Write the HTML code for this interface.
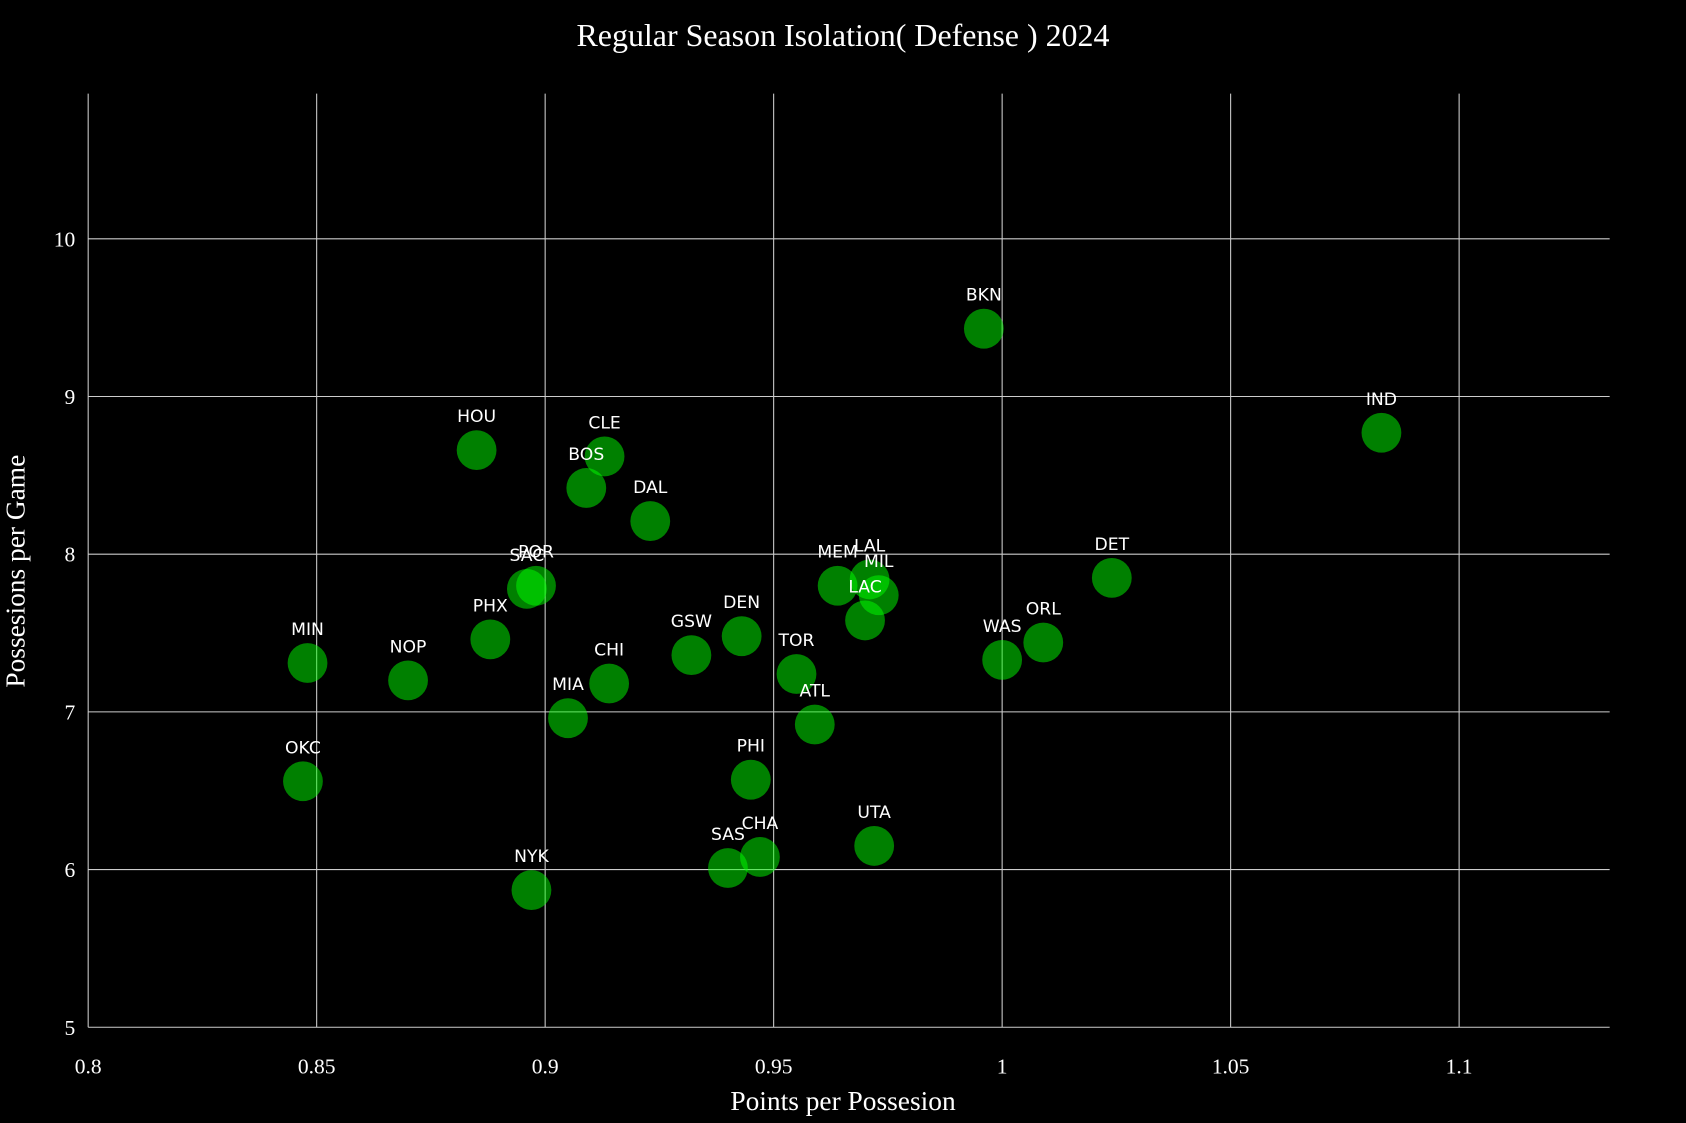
<!DOCTYPE html>
<html><head><meta charset="utf-8"><style>
html,body{margin:0;padding:0;background:#000;}
svg{display:block;}
</style></head><body>
<svg id="chart" width="1686" height="1123" viewBox="0 0 1568 1044" preserveAspectRatio="none" xmlns="http://www.w3.org/2000/svg">
<rect width="1568" height="1044" fill="#000"/>
<text x="784" y="43" text-anchor="middle" fill="#fff" font-family="Liberation Serif, serif" font-size="29.7">Regular Season Isolation( Defense ) 2024</text>
<text x="784" y="1032" text-anchor="middle" fill="#fff" font-family="Liberation Serif, serif" font-size="25.5">Points per Possesion</text>
<text transform="translate(23,531) rotate(-90)" text-anchor="middle" fill="#fff" font-family="Liberation Serif, serif" font-size="25.5">Possesions per Game</text>
<g id="grid"></g><g id="marks"></g>
</svg>
<script>
const teams=["HOU","CLE","BOS","DAL","SAC","POR","MIN","NOP","PHX","MIA","CHI","GSW","DEN","TOR","ATL","PHI","SAS","CHA","NYK","OKC","UTA","MEM","LAL","MIL","LAC","WAS","ORL","DET","BKN","IND"];
const ppp=[0.885,0.913,0.909,0.923,0.896,0.898,0.848,0.870,0.888,0.905,0.914,0.932,0.943,0.955,0.959,0.945,0.940,0.947,0.897,0.847,0.972,0.964,0.971,0.973,0.970,1.000,1.009,1.024,0.996,1.083];
const poss=[8.66,8.62,8.42,8.21,7.78,7.80,7.31,7.20,7.46,6.96,7.18,7.36,7.48,7.24,6.92,6.57,6.01,6.08,5.87,6.56,6.15,7.80,7.84,7.74,7.58,7.33,7.44,7.85,9.43,8.77];
const xTicks=[0.8,0.85,0.9,0.95,1,1.05,1.1];
const xTickLabels=["0.8","0.85","0.9","0.95","1","1.05","1.1"];
const yTicks=[5,6,7,8,9,10];
const yTickLabels=["5","6","7","8","9","10"];
const L=82,R=1497,T=87,B=955;
const xS=v=>82+(v-0.8)*4250;
const yS=v=>955-(v-5)*146.6;
const NS="http://www.w3.org/2000/svg";
const grid=document.getElementById('grid'),marks=document.getElementById('marks');
function mk(t,a,p){const e=document.createElementNS(NS,t);for(const k in a)e.setAttribute(k,a[k]);p.appendChild(e);return e;}
xTicks.forEach((v,i)=>{
 const l=mk('line',{x1:xS(v),x2:xS(v),y1:T,y2:B,stroke:'#ccc','stroke-width':1},grid);
 
 
 const t=mk('text',{x:xS(v),y:B+43,'text-anchor':'middle',fill:'#fff','font-family':'Liberation Serif, serif','font-size':20},grid);
 t.textContent=xTickLabels[i];
 
 
});
yTicks.forEach((v,i)=>{
 const l=mk('line',{x1:L,x2:R,y1:yS(v),y2:yS(v),stroke:'#ccc','stroke-width':1},grid);
 
 
 const t=mk('text',{x:L-12,y:yS(v)+7,'text-anchor':'end',fill:'#fff','font-family':'Liberation Serif, serif','font-size':20},grid);
 t.textContent=yTickLabels[i];
 
 
});
teams.forEach((n,i)=>{
 const c=mk('circle',{cx:xS(ppp[i]),cy:yS(poss[i]),r:18.5,fill:'#00ff00','fill-opacity':0.5},marks);
 
 
});
teams.forEach((n,i)=>{
 const t=mk('text',{x:xS(ppp[i]),y:yS(poss[i])-26,'text-anchor':'middle',fill:'#fff','font-family':'DejaVu Sans, sans-serif','font-size':16},marks);
 t.textContent=n;
 
 
});
</script>
</body></html>
